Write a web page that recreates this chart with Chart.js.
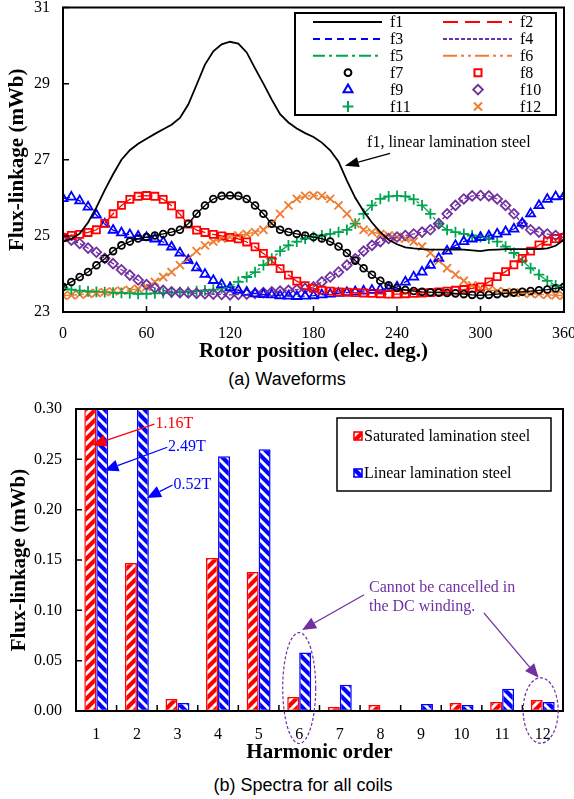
<!DOCTYPE html>
<html>
<head>
<meta charset="utf-8">
<script src="https://cdn.jsdelivr.net/npm/chart.js@4.4.0/dist/chart.umd.min.js"></script>
<style>
  body { margin: 0; background: #fff; width: 574px; height: 799px; position: relative; overflow: hidden; }
  #wrapA { position: absolute; left: 0; top: 0; width: 574px; height: 368px; }
  #wrapB { position: absolute; left: 0; top: 395px; width: 574px; height: 380px; }
  .cap { position: absolute; font-family: 'Liberation Sans', Arial, sans-serif; font-size: 18px; color: #000;
         white-space: nowrap; transform: translateX(-50%); line-height: 20px; }
</style>
</head>
<body>
<div id="wrapA"><canvas id="waveChart" width="574" height="368"></canvas></div>
<div class="cap" style="left:287px;top:369px">(a) Waveforms</div>
<div id="wrapB"><canvas id="spectraChart" width="574" height="380"></canvas></div>
<div class="cap" style="left:303px;top:775px">(b) Spectra for all coils</div>
<script>
// rotor position (elec. deg.)
var positions = [0, 6, 12, 18, 24, 30, 36, 42, 48, 54, 60, 66, 72, 78, 84, 90, 96, 102, 108, 114,
  120, 126, 132, 138, 144, 150, 156, 162, 168, 174, 180, 186, 192, 198, 204, 210, 216, 222, 228, 234,
  240, 246, 252, 258, 264, 270, 276, 282, 288, 294, 300, 306, 312, 318, 324, 330, 336, 342, 348, 354, 360];

// flux-linkage (mWb), saturated steel; f1..f6 lines lie under the f7..f12 markers
var flux1 = [23.66, 23.79, 23.92, 24.05, 24.23, 24.40, 24.60, 24.75, 24.85, 24.93, 24.97, 25.01, 25.05, 25.10, 25.16, 25.32, 25.58, 25.80, 25.97, 26.05,
  26.06, 26.05, 25.97, 25.80, 25.58, 25.32, 25.16, 25.10, 25.05, 25.01, 24.97, 24.93, 24.85, 24.72, 24.55, 24.35, 24.15, 23.98, 23.82, 23.70,
  23.63, 23.58, 23.55, 23.53, 23.52, 23.51, 23.50, 23.49, 23.47, 23.45, 23.44, 23.45, 23.47, 23.49, 23.51, 23.53, 23.55, 23.57, 23.59, 23.62, 23.66];
var flux2 = [24.96, 25.01, 25.04, 25.09, 25.16, 25.33, 25.58, 25.80, 25.96, 26.04, 26.06, 26.04, 25.96, 25.79, 25.57, 25.31, 25.15, 25.09, 25.04, 25.00,
  24.96, 24.92, 24.84, 24.71, 24.54, 24.34, 24.14, 23.97, 23.81, 23.69, 23.62, 23.57, 23.55, 23.53, 23.52, 23.51, 23.50, 23.49, 23.48, 23.47,
  23.47, 23.48, 23.49, 23.50, 23.51, 23.53, 23.55, 23.57, 23.59, 23.62, 23.66, 23.79, 23.93, 24.06, 24.24, 24.41, 24.60, 24.76, 24.86, 24.93, 24.96];
var flux3 = [25.98, 26.02, 25.92, 25.76, 25.55, 25.31, 25.15, 25.08, 25.03, 24.99, 24.96, 24.92, 24.84, 24.71, 24.55, 24.36, 24.16, 23.99, 23.83, 23.72,
  23.64, 23.57, 23.52, 23.48, 23.46, 23.45, 23.43, 23.42, 23.41, 23.42, 23.43, 23.45, 23.47, 23.49, 23.51, 23.53, 23.55, 23.57, 23.59, 23.62,
  23.66, 23.79, 23.92, 24.05, 24.23, 24.41, 24.60, 24.75, 24.85, 24.92, 24.96, 25.00, 25.05, 25.11, 25.18, 25.33, 25.58, 25.80, 25.96, 26.03, 26.04];
var flux4 = [24.96, 24.89, 24.80, 24.68, 24.57, 24.41, 24.27, 24.11, 23.97, 23.84, 23.72, 23.63, 23.57, 23.53, 23.51, 23.50, 23.49, 23.48, 23.47, 23.46,
  23.45, 23.46, 23.47, 23.49, 23.51, 23.53, 23.55, 23.57, 23.59, 23.62, 23.66, 23.79, 23.92, 24.05, 24.23, 24.40, 24.60, 24.75, 24.85, 24.93,
  24.97, 25.01, 25.05, 25.10, 25.16, 25.32, 25.58, 25.80, 25.97, 26.05, 26.06, 26.05, 25.97, 25.80, 25.58, 25.32, 25.16, 25.10, 25.05, 25.01, 24.97];
var flux5 = [23.64, 23.59, 23.56, 23.54, 23.53, 23.52, 23.51, 23.50, 23.49, 23.48, 23.48, 23.49, 23.50, 23.51, 23.52, 23.53, 23.55, 23.57, 23.59, 23.62,
  23.66, 23.79, 23.92, 24.05, 24.23, 24.40, 24.60, 24.75, 24.85, 24.93, 24.97, 25.01, 25.05, 25.10, 25.16, 25.32, 25.58, 25.80, 25.97, 26.04,
  26.05, 26.04, 25.96, 25.80, 25.58, 25.32, 25.16, 25.10, 25.05, 25.01, 24.97, 24.93, 24.85, 24.72, 24.55, 24.35, 24.15, 23.98, 23.82, 23.70, 23.64];
var flux6 = [23.43, 23.44, 23.46, 23.48, 23.50, 23.52, 23.54, 23.56, 23.58, 23.61, 23.66, 23.79, 23.92, 24.05, 24.23, 24.40, 24.60, 24.75, 24.85, 24.93,
  24.97, 25.01, 25.05, 25.10, 25.16, 25.32, 25.58, 25.80, 25.97, 26.05, 26.06, 26.05, 25.97, 25.80, 25.58, 25.32, 25.16, 25.10, 25.05, 25.01,
  24.97, 24.93, 24.85, 24.72, 24.55, 24.35, 24.15, 23.98, 23.82, 23.70, 23.63, 23.58, 23.55, 23.53, 23.51, 23.50, 23.48, 23.47, 23.45, 23.44, 23.43];
// f1 with linear lamination steel
var flux1Linear = [24.85, 24.92, 25.06, 25.35, 25.75, 26.20, 26.62, 27.00, 27.25, 27.42, 27.55, 27.68, 27.80, 27.92, 28.10, 28.45, 28.97, 29.50, 29.85, 30.03,
  30.10, 30.05, 29.82, 29.40, 29.00, 28.58, 28.20, 27.98, 27.82, 27.70, 27.60, 27.45, 27.25, 26.95, 26.45, 26.00, 25.65, 25.35, 25.10, 24.90,
  24.78, 24.70, 24.67, 24.65, 24.64, 24.64, 24.64, 24.64, 24.64, 24.62, 24.60, 24.63, 24.64, 24.65, 24.65, 24.65, 24.65, 24.65, 24.67, 24.74, 24.90];

// spectra (mWb)
var harmonics = ['1', '2', '3', '4', '5', '6', '7', '8', '9', '10', '11', '12'];
var saturatedSpectrum = [1.16, 0.147, 0.012, 0.152, 0.138, 0.014, 0.004, 0.006, 0.000, 0.008, 0.009, 0.011];
var linearSpectrum = [2.49, 0.52, 0.008, 0.253, 0.260, 0.058, 0.026, 0.001, 0.007, 0.006, 0.022, 0.009];

var SERIF = "'Liberation Serif', 'Times New Roman', serif";
Chart.defaults.font.family = SERIF;
Chart.defaults.color = '#000';

var RED = '#ff0000', BLUE = '#0000ff', GREEN = '#00a550', PURPLE = '#7030a0', ORANGE = '#ed7d31', BLACK = '#000000';

function pts(vals) {
  return positions.map(function (p, i) { return { x: p, y: vals[i] }; });
}

function lineSet(label, vals, color, dash) {
  return { label: label, data: pts(vals), borderColor: color, borderWidth: 1.3, borderDash: dash,
    pointRadius: 0, fill: false, tension: 0 };
}
function markSet(label, vals, color, style, r) {
  return { label: label, data: pts(vals), showLine: false, borderColor: color, backgroundColor: 'rgba(0,0,0,0)',
    pointStyle: style, pointRadius: r, pointBorderWidth: 1.8, pointBorderColor: color,
    pointBackgroundColor: 'rgba(0,0,0,0)' };
}

var waveSets = [
  { label: 'f1 linear', hideInLegend: true, data: pts(flux1Linear), borderColor: BLACK, borderWidth: 1.8, pointRadius: 0, fill: false },
  lineSet('f1', flux1, BLACK, []),
  lineSet('f2', flux2, RED, [15, 7]),
  lineSet('f3', flux3, BLUE, [7, 5]),
  lineSet('f4', flux4, PURPLE, [4, 2]),
  lineSet('f5', flux5, GREEN, [12, 4, 3, 4]),
  lineSet('f6', flux6, ORANGE, [14, 4, 3, 4, 3, 4]),
  markSet('f7', flux1, BLACK, 'circle', 3.4),
  markSet('f8', flux2, RED, 'rect', 5),
  markSet('f9', flux3, BLUE, 'triangle', 5.2),
  markSet('f10', flux4, PURPLE, 'rectRot', 4.8),
  markSet('f11', flux5, GREEN, 'cross', 5.4),
  markSet('f12', flux6, ORANGE, 'crossRot', 5.7)
];

function arrow(ctx, x1, y1, x2, y2, color, head, width) {
  var a = Math.atan2(y2 - y1, x2 - x1);
  var bx = x2 - head * Math.cos(a), by = y2 - head * Math.sin(a);
  ctx.strokeStyle = color; ctx.fillStyle = color; ctx.lineWidth = 1.3; ctx.setLineDash([]);
  ctx.beginPath(); ctx.moveTo(x1, y1); ctx.lineTo(bx, by); ctx.stroke();
  ctx.beginPath(); ctx.moveTo(x2, y2);
  ctx.lineTo(bx + width / 2 * Math.sin(a), by - width / 2 * Math.cos(a));
  ctx.lineTo(bx - width / 2 * Math.sin(a), by + width / 2 * Math.cos(a));
  ctx.closePath(); ctx.fill();
}

function frame(ctx, a, xTicks, yTicks) {
  ctx.strokeStyle = '#000'; ctx.lineWidth = 1.5; ctx.setLineDash([]);
  ctx.beginPath();
  xTicks.forEach(function (px) { ctx.moveTo(px, a.bottom); ctx.lineTo(px, a.bottom - 6); });
  yTicks.forEach(function (py) { ctx.moveTo(a.left, py); ctx.lineTo(a.left + 6, py); });
  ctx.stroke();
  ctx.lineWidth = 2;
  ctx.strokeRect(a.left, a.top, a.right - a.left, a.bottom - a.top);
}

var waveDecor = {
  id: 'waveDecor',
  afterDraw: function (chart) {
    var ctx = chart.ctx, xs = chart.scales.x, ys = chart.scales.y;
    ctx.save();
    frame(ctx, chart.chartArea,
      xs.ticks.map(function (t) { return xs.getPixelForValue(t.value); }),
      ys.ticks.map(function (t) { return ys.getPixelForValue(t.value); }));

    // legend box
    ctx.fillStyle = '#fff';
    ctx.fillRect(295, 13, 261, 102);
    ctx.strokeStyle = '#000'; ctx.lineWidth = 2;
    ctx.strokeRect(295, 13, 261, 102);
    ctx.font = '16px ' + SERIF;
    ctx.textBaseline = 'middle';
    ctx.textAlign = 'left';
    chart.data.datasets.forEach(function (ds) {
      if (ds.hideInLegend) return;
      var n = parseInt(ds.label.slice(1), 10) - 1;
      var col = n % 2, row = Math.floor(n / 2);
      var y = 22 + row * 16.9;
      var sx = col ? 443 : 313;
      if (ds.showLine === false) {
        ctx.strokeStyle = ds.pointBorderColor; ctx.fillStyle = 'rgba(0,0,0,0)';
        ctx.lineWidth = 2; ctx.setLineDash([]);
        Chart.helpers.drawPoint(ctx, { pointStyle: ds.pointStyle, radius: ds.pointRadius, rotation: 0, borderWidth: 2 }, sx + 35, y);
      } else {
        ctx.strokeStyle = ds.borderColor; ctx.lineWidth = 2; ctx.setLineDash(ds.borderDash || []);
        ctx.beginPath(); ctx.moveTo(sx, y); ctx.lineTo(sx + 69, y); ctx.stroke();
        ctx.setLineDash([]);
      }
      ctx.fillStyle = '#000';
      ctx.fillText(ds.label, sx + 77, y + 1);
    });

    // annotation for the linear-steel curve
    ctx.fillStyle = '#000';
    ctx.fillText('f1, linear lamination steel', xs.getPixelForValue(218.5), ys.getPixelForValue(27.45));
    arrow(ctx, xs.getPixelForValue(235), ys.getPixelForValue(27.17), xs.getPixelForValue(202.5), ys.getPixelForValue(26.84), '#000', 14, 10);
    ctx.restore();
  }
};

new Chart(document.getElementById('waveChart'), {
  type: 'line',
  data: { datasets: waveSets },
  options: {
    responsive: false,
    animation: false,
    layout: { padding: { top: 6, right: 10, left: 0, bottom: 0 } },
    plugins: { legend: { display: false }, tooltip: { enabled: false } },
    scales: {
      x: {
        type: 'linear', min: 0, max: 360,
        ticks: { stepSize: 60, padding: 12, font: { size: 16 }, maxRotation: 0, autoSkip: false },
        grid: { display: false, drawTicks: false }, border: { display: false },
        title: { display: true, text: 'Rotor position (elec. deg.)', font: { size: 21, weight: 'bold' }, padding: { top: 0, bottom: 4 } },
        afterFit: function (s) { s.height = 56; s.paddingLeft = 0; s.paddingRight = 0; }
      },
      y: {
        min: 23, max: 31,
        ticks: { stepSize: 2, padding: 13, font: { size: 16 } },
        grid: { display: false, drawTicks: false }, border: { display: false },
        title: { display: true, text: 'Flux-linkage (mWb)', font: { size: 21, weight: 'bold' }, padding: { top: 5, bottom: 0 } },
        afterFit: function (s) { s.width = 63; s.paddingTop = 0; s.paddingBottom = 0; }
      }
    }
  },
  plugins: [waveDecor]
});

// hatch fills
function makeHatch(color, rising) {
  var c = document.createElement('canvas');
  c.width = 10; c.height = 10;
  var g = c.getContext('2d');
  g.fillStyle = '#fff'; g.fillRect(0, 0, 10, 10);
  g.strokeStyle = color; g.lineWidth = 4.2;
  g.beginPath();
  if (rising) {
    g.moveTo(-5, 5); g.lineTo(5, -5); g.moveTo(0, 10); g.lineTo(10, 0); g.moveTo(5, 15); g.lineTo(15, 5);
  } else {
    g.moveTo(-5, 5); g.lineTo(5, 15); g.moveTo(0, 0); g.lineTo(10, 10); g.moveTo(5, -5); g.lineTo(15, 5);
  }
  g.stroke();
  return g.createPattern(c, 'repeat');
}
var redHatch = makeHatch(RED, true);
var blueHatch = makeHatch(BLUE, false);

var spectraDecor = {
  id: 'spectraDecor',
  afterDraw: function (chart) {
    var ctx = chart.ctx, xs = chart.scales.x, ys = chart.scales.y, a = chart.chartArea;
    ctx.save();
    var xt = [];
    for (var i = 1; i < harmonics.length; i++) {
      xt.push((xs.getPixelForValue(i - 1) + xs.getPixelForValue(i)) / 2);
    }
    frame(ctx, a, xt, ys.ticks.map(function (t) { return ys.getPixelForValue(t.value); }));

    // legend
    ctx.fillStyle = '#fff';
    ctx.fillRect(337, 23, 214, 73);
    ctx.strokeStyle = '#000'; ctx.lineWidth = 1.5;
    ctx.strokeRect(337, 23, 214, 73);
    ctx.font = '16px ' + SERIF;
    ctx.textBaseline = 'middle';
    ctx.textAlign = 'left';
    chart.data.datasets.forEach(function (ds, k) {
      var y = 41 + k * 37;
      ctx.fillStyle = ds.backgroundColor;
      ctx.fillRect(354, y - 4, 8, 8);
      ctx.strokeStyle = ds.borderColor; ctx.lineWidth = 1.6;
      ctx.strokeRect(354, y - 4, 8, 8);
      ctx.fillStyle = '#000';
      ctx.fillText(ds.label, 364, y + 1);
    });

    // field annotations
    function px(v) { return xs.getPixelForValue(v); }
    function py(v) { return ys.getPixelForValue(v); }
    ctx.fillStyle = RED;
    ctx.fillText('1.16T', px(1.46), py(0.285));
    arrow(ctx, px(1.43), py(0.285), px(-0.1), py(0.264), RED, 14, 12);
    ctx.fillStyle = BLUE;
    ctx.fillText('2.49T', px(1.77), py(0.262));
    arrow(ctx, px(1.75), py(0.262), px(0.2), py(0.239), BLUE, 14, 12);
    ctx.fillStyle = BLUE;
    ctx.fillText('0.52T', px(1.9), py(0.2245));
    arrow(ctx, px(1.88), py(0.2245), px(1.25), py(0.2116), BLUE, 14, 12);

    // not-cancelled note
    ctx.fillStyle = PURPLE;
    ctx.fillText('Cannot be cancelled in', px(6.72), py(0.122));
    ctx.fillText('the DC winding.', px(6.72), py(0.1035));
    arrow(ctx, px(6.6), py(0.1155), px(5.07), py(0.0805), PURPLE, 14, 12);
    arrow(ctx, px(9.55), py(0.0975), px(10.9), py(0.033), PURPLE, 14, 12);
    ctx.strokeStyle = PURPLE; ctx.lineWidth = 1.2; ctx.setLineDash([3, 2]);
    ctx.beginPath();
    ctx.ellipse(px(5), py(0.0228), 16.5, py(0) - py(0.0551), 0, 0, Math.PI * 2);
    ctx.stroke();
    ctx.beginPath();
    ctx.ellipse(px(10.95), py(0.0005), 17.5, py(0) - py(0.0325), 0, 0, Math.PI * 2);
    ctx.stroke();
    ctx.restore();
  }
};

new Chart(document.getElementById('spectraChart'), {
  type: 'bar',
  data: {
    labels: harmonics,
    datasets: [
      { label: 'Saturated lamination steel', data: saturatedSpectrum, backgroundColor: redHatch, borderColor: RED,
        borderWidth: 1.5, borderSkipped: false, categoryPercentage: 0.59, barPercentage: 1.0 },
      { label: 'Linear lamination steel', data: linearSpectrum, backgroundColor: blueHatch, borderColor: BLUE,
        borderWidth: 1.5, borderSkipped: false, categoryPercentage: 0.59, barPercentage: 1.0 }
    ]
  },
  options: {
    responsive: false,
    animation: false,
    layout: { padding: { top: 14, right: 11, left: 0, bottom: 0 } },
    plugins: { legend: { display: false }, tooltip: { enabled: false } },
    scales: {
      x: {
        ticks: { padding: 14, font: { size: 16 }, maxRotation: 0, autoSkip: false },
        grid: { display: false, drawTicks: false }, border: { display: false },
        title: { display: true, text: 'Harmonic order', font: { size: 21, weight: 'bold' }, padding: { top: 0, bottom: 10 } },
        afterFit: function (s) { s.height = 64; s.paddingLeft = 0; s.paddingRight = 0; }
      },
      y: {
        min: 0, max: 0.30,
        ticks: { stepSize: 0.05, padding: 14, font: { size: 16 }, callback: function (v) { return v.toFixed(2); } },
        grid: { display: false, drawTicks: false }, border: { display: false },
        title: { display: true, text: 'Flux-linkage (mWb)', font: { size: 21, weight: 'bold' }, padding: { top: 7, bottom: 0 } },
        afterFit: function (s) { s.width = 76; s.paddingTop = 0; s.paddingBottom = 0; }
      }
    }
  },
  plugins: [spectraDecor]
});
</script>
</body>
</html>
